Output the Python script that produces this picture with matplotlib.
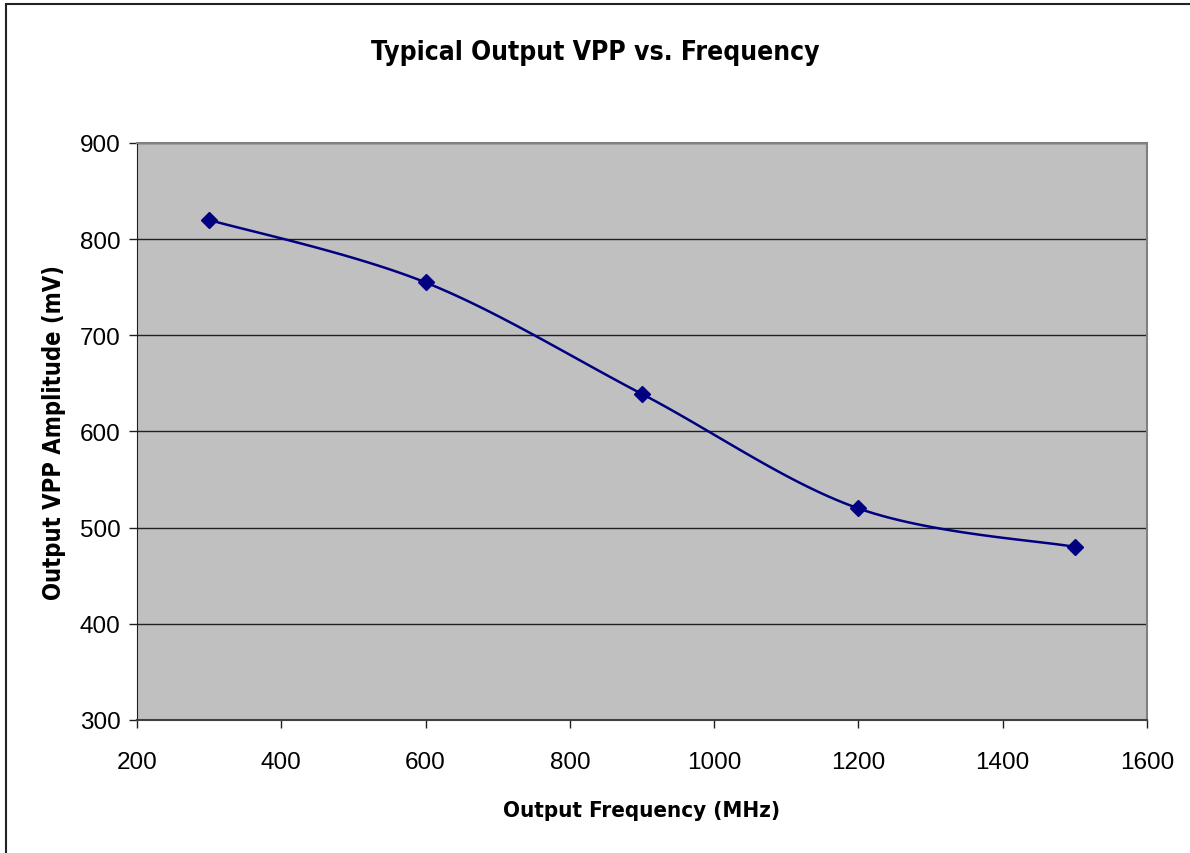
import numpy as np
import matplotlib
matplotlib.use('Agg')
import matplotlib.pyplot as plt
from matplotlib.patches import Rectangle
from matplotlib import font_manager

freq_mhz = [300, 600, 900, 1200, 1500]
vpp_mv = [820, 755, 639, 520, 480]
xticks = [200, 400, 600, 800, 1000, 1200, 1400, 1600]
yticks = [300, 400, 500, 600, 700, 800, 900]

def smooth(x, y, n=30):
    # excel-like smoothed line (catmull-rom through the points)
    x = np.asarray(x, float); y = np.asarray(y, float)
    px = np.concatenate([[x[0]], x, [x[-1]]])
    py = np.concatenate([[y[0]], y, [y[-1]]])
    xs, ys = [], []
    t = np.linspace(0, 1, n)
    for i in range(1, len(px) - 2):
        for p, out in ((px, xs), (py, ys)):
            p0, p1, p2, p3 = p[i-1], p[i], p[i+1], p[i+2]
            out.extend(0.5 * (2*p1 + (-p0 + p2)*t + (2*p0 - 5*p1 + 4*p2 - p3)*t**2
                              + (-p0 + 3*p1 - 3*p2 + p3)*t**3))
    return xs, ys

plt.rcParams['font.family'] = ['Liberation Sans', 'DejaVu Sans']

# condensed bold face for title / axis labels, if there is one
cond = None
for f in font_manager.fontManager.ttflist:
    if 'Condensed' in f.fname and 'Bold' in f.fname and 'Oblique' not in f.fname and 'Sans' in f.fname:
        cond = f.fname
        break
if cond:
    bold_font = dict(fontproperties=font_manager.FontProperties(fname=cond))
else:
    bold_font = dict(family=['Liberation Sans'], fontweight='bold')

fig = plt.figure(figsize=[11.9, 8.54], dpi=100)
fig.patches.append(Rectangle((6/1190, -0.01), 1.02, 1 - 5/854 + 0.01, transform=fig.transFigure,
                             fill=False, edgecolor='#222222', linewidth=1.5))

ax = fig.add_axes([137/1190, 1 - 721/854, 1010/1190, 577/854])
ax.set_facecolor('#c0c0c0')
ax.set_xlim(200, 1600)
ax.set_ylim(300, 900)
ax.set_xticks(xticks)
ax.set_yticks(yticks)
ax.yaxis.grid(True, color='#202020', linewidth=1)
ax.set_axisbelow(True)
for s in ['top', 'right']:
    ax.spines[s].set_color('#808080')
    ax.spines[s].set_linewidth(1.5)
ax.spines['left'].set_color('#202020')
ax.spines['bottom'].set_color('#404040')
ax.spines['bottom'].set_linewidth(1.5)
ax.tick_params(direction='out', length=6, width=1, colors='#202020', labelsize=17.5, labelcolor='black')
ax.tick_params(axis='x', pad=16)
ax.tick_params(axis='y', pad=6)

sx, sy = smooth(freq_mhz, vpp_mv)
ax.plot(sx, sy, color='#000080', linewidth=1.8)
ax.plot(freq_mhz, vpp_mv, linestyle='none', marker='D', markersize=8, color='#000080')

t = fig.text(0.5, 1 - 53/854, 'Typical Output VPP vs. Frequency', ha='center', va='center', **bold_font)
t.set_fontsize(19)
xl = ax.set_xlabel('Output Frequency (MHz)', labelpad=20, **bold_font)
xl.set_fontsize(16)
yl = ax.set_ylabel('Output VPP Amplitude (mV)', labelpad=10, **bold_font)
yl.set_fontsize(17)

fig.savefig('out.png', dpi=100)
